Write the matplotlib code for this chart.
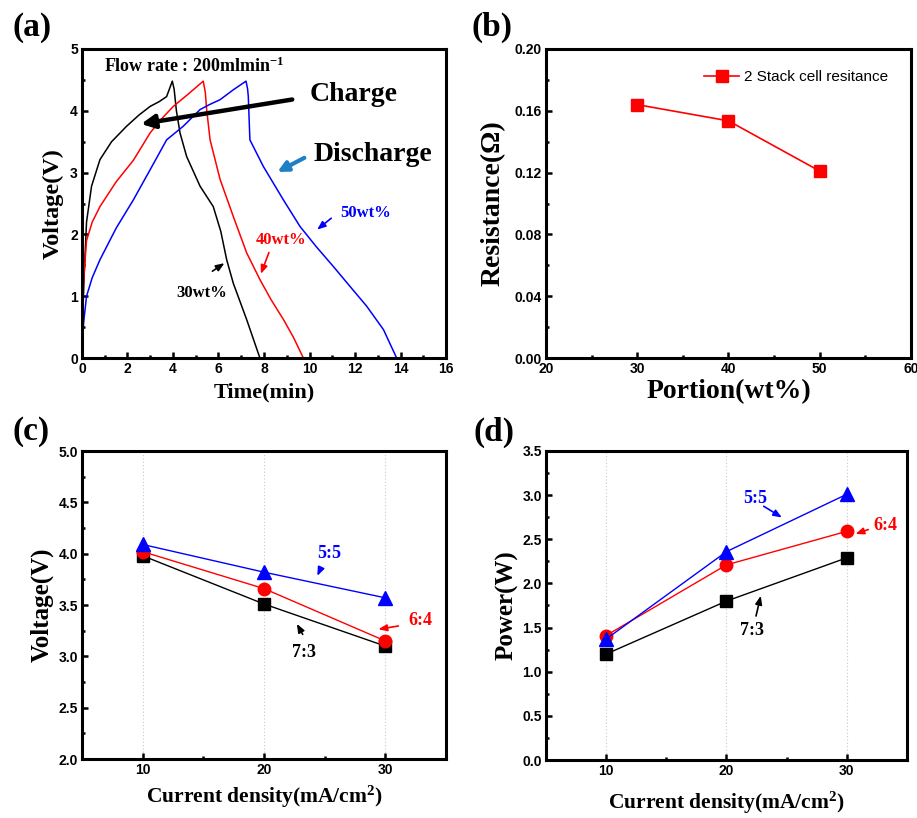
import matplotlib
matplotlib.use("Agg")
import matplotlib.pyplot as plt
from matplotlib.ticker import MultipleLocator, FormatStrFormatter

plt.rcParams["mathtext.fontset"] = "custom"
plt.rcParams["mathtext.rm"] = "Liberation Serif:bold"
plt.rcParams["mathtext.bf"] = "Liberation Serif:bold"
plt.rcParams["mathtext.it"] = "Liberation Serif:bold"

# ---------------- data ----------------
# (a) charge/discharge curves
t30 = [0, 0.08, 0.2, 0.42, 0.79, 1.3, 1.96, 2.5, 2.99, 3.4, 3.72, 3.97, 4.05, 4.15, 4.31, 4.6, 5.19, 5.77, 6.1, 6.36, 6.65, 7.24, 7.82]
v30 = [0.3, 1.2, 2.2, 2.78, 3.21, 3.5, 3.75, 3.93, 4.07, 4.15, 4.23, 4.48, 4.35, 4.0, 3.64, 3.26, 2.78, 2.45, 2.05, 1.59, 1.21, 0.62, 0.0]
t40 = [0, 0.08, 0.2, 0.45, 0.79, 1.5, 2.26, 2.99, 3.5, 4.01, 4.7, 5.33, 5.42, 5.48, 5.63, 6.07, 6.65, 7.24, 7.82, 8.3, 8.86, 9.3, 9.73]
v40 = [0.4, 1.3, 1.9, 2.2, 2.45, 2.85, 3.2, 3.64, 3.87, 4.07, 4.28, 4.48, 4.3, 4.02, 3.53, 2.89, 2.29, 1.70, 1.27, 0.95, 0.62, 0.33, 0.0]
t50 = [0, 0.08, 0.2, 0.45, 0.79, 1.5, 2.26, 3.0, 3.72, 4.45, 5.19, 5.6, 6.07, 6.65, 7.21, 7.28, 7.31, 7.38, 7.97, 8.85, 9.58, 10.3, 11.05, 11.8, 12.51, 13.25, 13.83]
v50 = [0.25, 0.6, 1.0, 1.3, 1.59, 2.1, 2.56, 3.05, 3.53, 3.75, 4.02, 4.1, 4.18, 4.34, 4.48, 4.35, 4.23, 3.53, 3.10, 2.56, 2.13, 1.80, 1.48, 1.15, 0.84, 0.46, 0.0]

# (b) resistance
portion = [30, 40, 50]
resistance = [0.164, 0.1535, 0.121]

# (c) / (d)
current = [10, 20, 30]
volt_73 = [3.98, 3.51, 3.10]
volt_64 = [4.02, 3.66, 3.15]
volt_55 = [4.09, 3.82, 3.57]
power_73 = [1.20, 1.80, 2.29]
power_64 = [1.41, 2.21, 2.59]
power_55 = [1.37, 2.36, 3.01]

# ---------------- style ----------------
SERIF = ["Liberation Serif", "DejaVu Serif"]
SANS = ["Liberation Sans", "DejaVu Sans"]
RED = "#ff0000"
BLUE = "#0000ff"

fig = plt.figure(figsize=(9.17, 8.18), dpi=100)

ax_a = fig.add_axes([0.0894, 0.5623, 0.397, 0.3778])
ax_b = fig.add_axes([0.5954, 0.5623, 0.398, 0.3778])
ax_c = fig.add_axes([0.0894, 0.0721, 0.397, 0.3765])
ax_d = fig.add_axes([0.5954, 0.0709, 0.3937, 0.3778])


def style(ax):
    for s in ["left", "bottom", "right", "top"]:
        ax.spines[s].set_linewidth(2.2)
    ax.tick_params(which="both", direction="in", top=False, right=False,
                   width=1.8, pad=3)
    ax.tick_params(which="major", length=4.5)
    ax.tick_params(which="minor", length=2.5)
    for lab in ax.get_xticklabels() + ax.get_yticklabels():
        lab.set_fontfamily(SANS)
        lab.set_fontweight("bold")
        lab.set_fontsize(10)


def labels(ax, xl, yl, xs, ys, xy, yx):
    ax.set_xlabel(xl, fontfamily=SERIF, fontweight="bold", fontsize=xs)
    ax.set_ylabel(yl, fontfamily=SERIF, fontweight="bold", fontsize=ys)
    ax.xaxis.set_label_coords(0.5, xy)
    ax.yaxis.set_label_coords(yx, 0.5)
    ax.xaxis.label.set_va("center")
    ax.yaxis.label.set_va("center")


def small_arrow(ax, xy, xytext, color):
    ax.annotate("", xy=xy, xytext=xytext,
                arrowprops=dict(arrowstyle="-|>,head_length=0.5,head_width=0.2",
                                color=color, lw=1.2))


# ---------------- (a) ----------------
ax = ax_a
ax.plot(t30, v30, color="black", lw=1.1)
ax.plot(t40, v40, color=RED, lw=1.1)
ax.plot(t50, v50, color=BLUE, lw=1.1)
ax.set_xlim(0, 16)
ax.set_ylim(0, 5)
ax.xaxis.set_major_locator(MultipleLocator(2))
ax.xaxis.set_minor_locator(MultipleLocator(1))
ax.yaxis.set_major_locator(MultipleLocator(1))
ax.yaxis.set_minor_locator(MultipleLocator(0.5))
style(ax)
labels(ax, "Time(min)", "Voltage(V)", 16, 17.5, -0.113, -0.08)
ax.text(0.95, 4.72, r"Flow rate : 200mlmin$^{\mathbf{-1}}$", fontfamily=SERIF,
        fontweight="bold", fontsize=13, va="center", ha="left")
ax.annotate("", xy=(2.48, 3.78), xytext=(9.36, 4.19),
            arrowprops=dict(arrowstyle="-|>,head_length=0.8,head_width=0.4",
                            color="black", lw=3.2))
ax.text(10.0, 4.26, "Charge", fontfamily=SERIF, fontweight="bold",
        fontsize=20, va="center", ha="left")
ax.annotate("", xy=(8.48, 2.99), xytext=(9.88, 3.26),
            arrowprops=dict(arrowstyle="-|>,head_length=0.6,head_width=0.3",
                            color="#1f7ec4", lw=3.0))
ax.text(10.17, 3.29, "Discharge", fontfamily=SERIF, fontweight="bold",
        fontsize=20, va="center", ha="left")
ax.text(12.45, 2.35, "50wt%", color=BLUE, fontfamily=SERIF,
        fontweight="bold", fontsize=12, va="center", ha="center")
small_arrow(ax, (10.24, 2.05), (11.05, 2.29), BLUE)
ax.text(8.75, 1.91, "40wt%", color=RED, fontfamily=SERIF,
        fontweight="bold", fontsize=12, va="center", ha="center")
small_arrow(ax, (7.82, 1.32), (8.26, 1.75), RED)
ax.text(5.25, 1.06, "30wt%", color="black", fontfamily=SERIF,
        fontweight="bold", fontsize=12, va="center", ha="center")
small_arrow(ax, (6.36, 1.56), (5.63, 1.38), "black")

# ---------------- (b) ----------------
ax = ax_b
ax.plot(portion, resistance, color=RED, lw=1.2, marker="s", ms=9,
        label="2 Stack cell resitance")
ax.set_xlim(20, 60)
ax.set_ylim(0, 0.20)
ax.xaxis.set_major_locator(MultipleLocator(10))
ax.xaxis.set_minor_locator(MultipleLocator(5))
ax.yaxis.set_major_locator(MultipleLocator(0.04))
ax.yaxis.set_minor_locator(MultipleLocator(0.02))
ax.yaxis.set_major_formatter(FormatStrFormatter("%.2f"))
style(ax)
labels(ax, "Portion(wt%)", "Resistance(Ω)", 20, 20, -0.11, -0.145)
ax.legend(loc="upper right", frameon=False, handlelength=2.3,
          handletextpad=0.3, bbox_to_anchor=(0.975, 0.975),
          prop={"family": SANS, "size": 11})

# ---------------- (c) ----------------
ax = ax_c
for x in current:
    ax.axvline(x, color="#c8c8c8", lw=0.8, ls=(0, (1, 2)), zorder=0)
ax.plot(current, volt_73, color="black", lw=1.0, marker="s", ms=8)
ax.plot(current, volt_64, color=RED, lw=1.0, marker="o", ms=9)
ax.plot(current, volt_55, color=BLUE, lw=1.0, marker="^", ms=10)
ax.set_xlim(5, 35)
ax.set_ylim(2.0, 5.0)
ax.xaxis.set_major_locator(MultipleLocator(10))
ax.xaxis.set_minor_locator(MultipleLocator(5))
ax.yaxis.set_major_locator(MultipleLocator(0.5))
ax.yaxis.set_minor_locator(MultipleLocator(0.25))
ax.yaxis.set_major_formatter(FormatStrFormatter("%.1f"))
style(ax)
labels(ax, r"Current density(mA/cm$^{\mathbf{2}}$)", "Voltage(V)", 15.5, 18,
       -0.123, -0.11)
ax.text(25.4, 4.0, "5:5", color=BLUE, fontfamily=SERIF, fontweight="bold",
        fontsize=13, va="center", ha="center")
small_arrow(ax, (24.3, 3.76), (24.8, 3.89), BLUE)
ax.text(32.9, 3.35, "6:4", color=RED, fontfamily=SERIF, fontweight="bold",
        fontsize=13, va="center", ha="center")
small_arrow(ax, (29.2, 3.26), (31.3, 3.30), RED)
ax.text(23.3, 3.04, "7:3", color="black", fontfamily=SERIF, fontweight="bold",
        fontsize=13, va="center", ha="center")
small_arrow(ax, (22.6, 3.34), (23.3, 3.19), "black")

# ---------------- (d) ----------------
ax = ax_d
for x in current:
    ax.axvline(x, color="#c8c8c8", lw=0.8, ls=(0, (1, 2)), zorder=0)
ax.plot(current, power_73, color="black", lw=1.0, marker="s", ms=8)
ax.plot(current, power_64, color=RED, lw=1.0, marker="o", ms=9)
ax.plot(current, power_55, color=BLUE, lw=1.0, marker="^", ms=10)
ax.set_xlim(5, 35)
ax.set_ylim(0.0, 3.5)
ax.xaxis.set_major_locator(MultipleLocator(10))
ax.xaxis.set_minor_locator(MultipleLocator(5))
ax.yaxis.set_major_locator(MultipleLocator(0.5))
ax.yaxis.set_minor_locator(MultipleLocator(0.25))
ax.yaxis.set_major_formatter(FormatStrFormatter("%.1f"))
style(ax)
labels(ax, r"Current density(mA/cm$^{\mathbf{2}}$)", "Power(W)", 15.5, 18,
       -0.138, -0.108)
ax.text(22.4, 2.96, "5:5", color=BLUE, fontfamily=SERIF, fontweight="bold",
        fontsize=13, va="center", ha="center")
small_arrow(ax, (24.8, 2.73), (22.9, 2.89), BLUE)
ax.text(33.2, 2.66, "6:4", color=RED, fontfamily=SERIF, fontweight="bold",
        fontsize=13, va="center", ha="center")
small_arrow(ax, (30.5, 2.55), (32.0, 2.62), RED)
ax.text(22.1, 1.47, "7:3", color="black", fontfamily=SERIF, fontweight="bold",
        fontsize=13, va="center", ha="center")
small_arrow(ax, (22.9, 1.89), (22.4, 1.60), "black")

# panel letters
for txt, x, y in [("(a)", 0.035, 0.966), ("(b)", 0.536, 0.966),
                  ("(c)", 0.034, 0.472), ("(d)", 0.539, 0.472)]:
    fig.text(x, y, txt, fontfamily=SERIF, fontweight="bold", fontsize=24,
             ha="center", va="center")

fig.savefig("out.png", dpi=100)
